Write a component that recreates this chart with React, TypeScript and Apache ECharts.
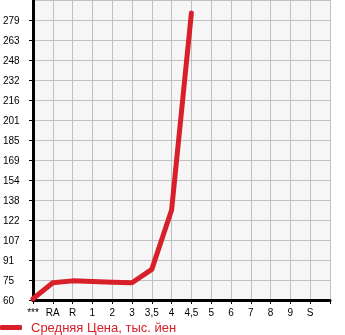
import React, { useEffect, useRef } from "react";
import * as echarts from "echarts";

const categories = ["***", "RA", "R", "1", "2", "3", "3,5", "4", "4,5", "5", "6", "7", "8", "9", "S", ""];
const avgPrice = [61, 73.5, 75, 74.5, 74, 73.5, 84, 130.5, 285];
const seriesName = "Средняя Цена, тыс. йен";
const yMin = 60;
const yStep = 15.68;
const yCount = 15;

export default function App() {
  const ref = useRef<HTMLDivElement>(null);
  useEffect(() => {
    if (!ref.current) return;
    const chart = echarts.init(ref.current, null, { renderer: "svg" });
    const red = "#d7202a";
    chart.setOption({
      animation: false,
      textStyle: { fontFamily: "Liberation Sans" },
      grid: {
        left: 31,
        top: 0,
        right: 15,
        bottom: 35,
        show: true,
        backgroundColor: "#f6f6f6",
        borderWidth: 0,
        containLabel: false,
      },
      legend: {
        left: 0,
        top: 321,
        padding: 0,
        icon: "roundRect",
        itemWidth: 22,
        itemHeight: 5,
        data: [{ name: seriesName, itemStyle: { color: red } }],
        textStyle: { color: red, fontSize: 13, fontFamily: "Liberation Sans", padding: [0, 0, 0, 4] },
      },
      xAxis: {
        type: "category",
        boundaryGap: false,
        data: categories,
        axisLine: { lineStyle: { color: "#000", width: 3 } },
        axisTick: { length: 4, lineStyle: { color: "#000", width: 1 } },
        axisLabel: { color: "#000", fontSize: 10, margin: 7, interval: 0 },
        splitLine: { show: true, lineStyle: { color: "#c0c0c0", width: 1 } },
      },
      yAxis: {
        type: "value",
        min: yMin,
        max: yMin + yStep * yCount,
        interval: yStep,
        axisLine: { show: true, lineStyle: { color: "#000", width: 3 } },
        axisTick: { show: true, length: 4, lineStyle: { color: "#000", width: 1 } },
        axisLabel: {
          color: "#000",
          fontSize: 10,
          align: "left",
          margin: 30,
          showMaxLabel: false,
          padding: [0, 0, 6, 0],
          formatter: (v: number) => String(Math.floor(v + 1e-6)),
        },
        splitLine: { show: true, lineStyle: { color: "#c0c0c0", width: 1 } },
      },
      series: [
        {
          name: seriesName,
          type: "line",
          data: avgPrice,
          symbol: "none",
          itemStyle: { color: red },
          lineStyle: { color: red, width: 5, cap: "round", join: "round" },
        },
      ],
    });
    return () => chart.dispose();
  }, []);
  return <div ref={ref} style={{ position: "fixed", left: 0, top: 0, width: 345, height: 335 }} />;
}
